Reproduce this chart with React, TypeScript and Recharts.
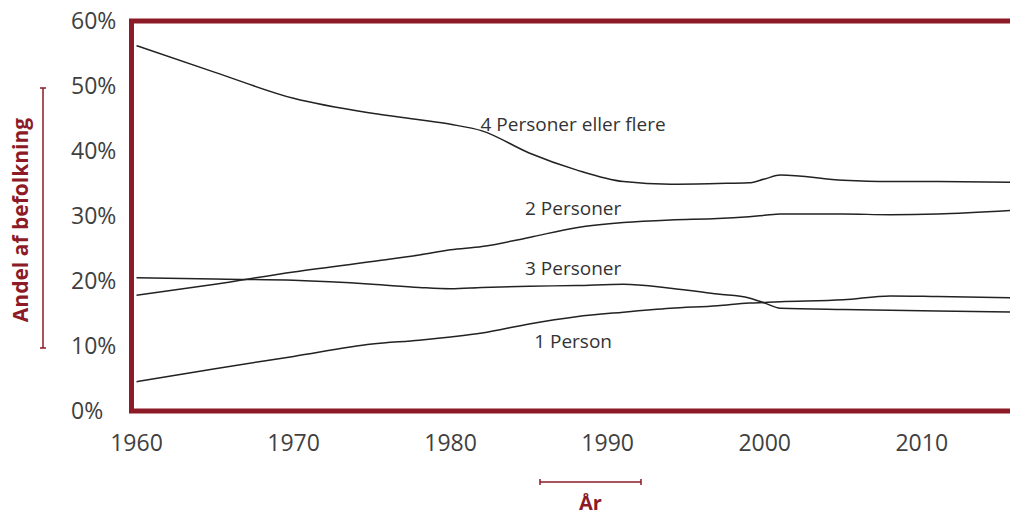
import React from 'react';
import { LineChart, Line, XAxis, YAxis, ReferenceArea, ReferenceDot } from 'recharts';

const years = [1960, 1965, 1970, 1975, 1978, 1980, 1982, 1985, 1988, 1991, 1994, 1997, 1999, 2000, 2001, 2005, 2008, 2011, 2016];
const onePerson = [4.5, 6.5, 8.4, 10.3, 10.9, 11.4, 12.0, 13.4, 14.5, 15.2, 15.8, 16.2, 16.6, 16.7, 16.8, 17.1, 17.7, 17.6, 17.4];
const twoPersons = [17.8, 19.5, 21.4, 23.0, 24.0, 24.8, 25.3, 26.7, 28.2, 29.0, 29.4, 29.6, 29.9, 30.1, 30.3, 30.3, 30.2, 30.3, 30.9];
const threePersons = [20.5, 20.3, 20.1, 19.5, 19.0, 18.8, 19.0, 19.2, 19.3, 19.5, 18.9, 18.0, 17.4, 16.6, 15.8, 15.6, 15.5, 15.4, 15.2];
const fourPlus = [56.2, 52.1, 48.1, 45.8, 44.8, 44.1, 43.1, 39.7, 37.1, 35.3, 34.9, 35.0, 35.1, 35.7, 36.3, 35.5, 35.3, 35.3, 35.2];

const xTicks = [1960, 1970, 1980, 1990, 2000, 2010];
const yTicks = [0, 10, 20, 30, 40, 50, 60];

const seriesLabels = [
  { text: '4 Personer eller flere', year: 1987.8, value: 44.15 },
  { text: '2 Personer', year: 1987.8, value: 31.2 },
  { text: '3 Personer', year: 1987.8, value: 22.0 },
  { text: '1 Person', year: 1987.8, value: 10.8 },
];

const data = years.map((year, i) => ({
  year,
  p1: onePerson[i],
  p2: twoPersons[i],
  p3: threePersons[i],
  p4: fourPlus[i],
}));

const RED = '#8C1B27';
const TICK = '#404040';
const FONT = '"Open Sans", sans-serif';

const YTick = (props: any) => (
  <text x={71} y={props.y} dy="0.35em" textAnchor="start" fill={TICK} fontSize={23} fontFamily={FONT}>
    {props.payload.value}%
  </text>
);

const XTick = (props: any) => (
  <text x={props.x} y={451} textAnchor="middle" fill={TICK} fontSize={23} fontFamily={FONT}>
    {props.payload.value}
  </text>
);

export default function App() {
  return (
    <div style={{ position: 'fixed', left: 0, top: 0, width: 1010, height: 515, overflow: 'hidden', background: '#fff' }}>
      <LineChart width={1040} height={515} data={data} margin={{ top: 21, right: 24, bottom: 74, left: 0 }}>
        <XAxis
          dataKey="year"
          type="number"
          domain={[1959.68, 2016]}
          ticks={xTicks}
          allowDataOverflow
          axisLine={false}
          tickLine={false}
          tick={<XTick />}
          height={30}
        />
        <YAxis
          type="number"
          domain={[0, 60]}
          ticks={yTicks}
          axisLine={false}
          tickLine={false}
          tick={<YTick />}
          width={131.5}
        />
        <Line dataKey="p4" type="monotone" stroke="#222" strokeWidth={1.5} dot={false} isAnimationActive={false} />
        <Line dataKey="p2" type="monotone" stroke="#222" strokeWidth={1.5} dot={false} isAnimationActive={false} />
        <Line dataKey="p3" type="monotone" stroke="#222" strokeWidth={1.5} dot={false} isAnimationActive={false} />
        <Line dataKey="p1" type="monotone" stroke="#222" strokeWidth={1.5} dot={false} isAnimationActive={false} />
        <ReferenceArea x1={1959.68} x2={2016} y1={0} y2={60} fill="none" stroke={RED} strokeWidth={5} fillOpacity={0} ifOverflow="visible" />
        {seriesLabels.map((l) => (
          <ReferenceDot
            key={l.text}
            x={l.year}
            y={l.value}
            r={0}
            fill="none"
            stroke="none"
            label={{ value: l.text, position: 'center', fill: '#333', fontSize: 19, fontFamily: FONT }}
          />
        ))}
      </LineChart>
      <svg width={1010} height={515} style={{ position: 'absolute', left: 0, top: 0, pointerEvents: 'none' }}>
        <text
          x={0}
          y={0}
          transform="translate(28,220) rotate(-90)"
          textAnchor="middle"
          fill={RED}
          fontSize={21}
          fontWeight="bold"
          fontFamily={FONT}
        >
          Andel af befolkning
        </text>
        <line x1={43} y1={88} x2={43} y2={348} stroke={RED} strokeWidth={1.5} />
        <line x1={40} y1={88} x2={46} y2={88} stroke={RED} strokeWidth={1.5} />
        <line x1={40} y1={348} x2={46} y2={348} stroke={RED} strokeWidth={1.5} />
        <line x1={540} y1={482} x2={641} y2={482} stroke={RED} strokeWidth={1.5} />
        <line x1={540} y1={479} x2={540} y2={485} stroke={RED} strokeWidth={1.5} />
        <line x1={641} y1={479} x2={641} y2={485} stroke={RED} strokeWidth={1.5} />
        <text x={590.5} y={510} textAnchor="middle" fill={RED} fontSize={20} fontWeight="bold" fontFamily={FONT}>
          År
        </text>
      </svg>
    </div>
  );
}
